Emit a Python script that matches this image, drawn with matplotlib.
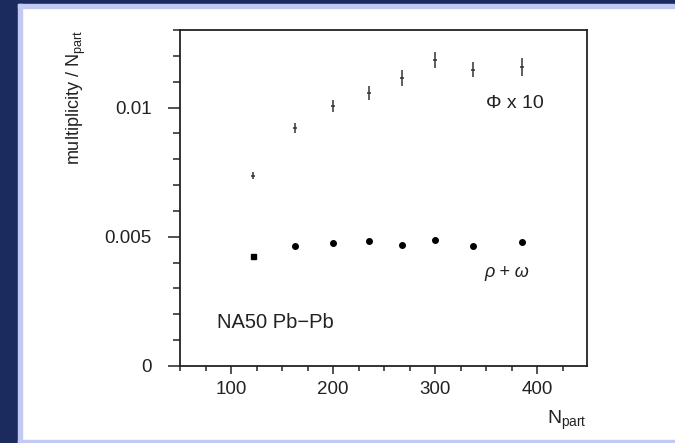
import matplotlib
matplotlib.use("Agg")
import matplotlib.pyplot as plt
from matplotlib.patches import Rectangle
from matplotlib.ticker import MultipleLocator, FixedLocator, FixedFormatter

# values
n_part = [122, 163, 200, 235, 268, 300, 337, 385]
phi_x10 = [0.00737, 0.0092, 0.01005, 0.01058, 0.01115, 0.01184, 0.01147, 0.01156]
phi_err = [0.00015, 0.0002, 0.00023, 0.00027, 0.0003, 0.0003, 0.00028, 0.00035]
rho_omega = [0.00425, 0.00465, 0.00475, 0.00484, 0.0047, 0.00489, 0.00466, 0.0048]
rho_err = [0.00003, 0.00003, 0.00004, 0.00005, 0.00006, 0.00006, 0.00006, 0.00007]
y_ticks = [0, 0.005, 0.01]
y_tick_labels = ["0", "0.005", "0.01"]
x_ticks = [100, 200, 300, 400]

plt.rcParams['font.family'] = ['Liberation Sans', 'DejaVu Sans']
plt.rcParams['mathtext.fontset'] = 'custom'
plt.rcParams['mathtext.rm'] = 'Liberation Sans'
plt.rcParams['mathtext.it'] = 'Liberation Sans:italic'

W, H = 675, 443
fig = plt.figure(figsize=(W / 100, H / 100), dpi=100)
fig.patch.set_facecolor('white')

# slide frame: navy border with a lavender edge
NAVY = '#1c2b5e'
LAV = '#c2caf4'
def px_rect(x0, y0, x1, y1, color):
    fig.patches.append(Rectangle((x0 / W, 1 - y1 / H), (x1 - x0) / W, (y1 - y0) / H,
                                 transform=fig.transFigure, color=color, zorder=0))
px_rect(0, 0, W, 4, NAVY)
px_rect(0, 0, 18, H, NAVY)
px_rect(18, 4, W, 8, LAV)
px_rect(18, 4, 22, H, LAV)
px_rect(18, 440, W, H, LAV)

ax = fig.add_axes([180 / W, 1 - 366 / H, (587 - 180) / W, (366 - 30) / H])
ax.set_facecolor('white')

# Phi x 10 with error bars
ax.errorbar(n_part, phi_x10, yerr=phi_err, fmt='_', ms=3, mew=1.1, color='#333333',
            ecolor='#333333', elinewidth=1.1, capsize=0)

# rho + omega
ax.errorbar(n_part[:1], rho_omega[:1], yerr=rho_err[:1], fmt='s', ms=3.6, color='black',
            elinewidth=1, capsize=0)
ax.errorbar(n_part[1:], rho_omega[1:], yerr=rho_err[1:], fmt='o', ms=4, color='black',
            elinewidth=1, capsize=0)

ax.set_xlim(50, 449)
ax.set_ylim(0, 0.013)

ax.xaxis.set_major_locator(FixedLocator(x_ticks))
ax.xaxis.set_minor_locator(MultipleLocator(25))
ax.yaxis.set_major_locator(FixedLocator(y_ticks))
ax.yaxis.set_major_formatter(FixedFormatter(y_tick_labels))
ax.yaxis.set_minor_locator(MultipleLocator(0.001))

ax.tick_params(axis='both', which='both', direction='out', top=False, right=False,
               width=1.1, colors='#222222', labelsize=13.5, labelcolor='#222222')
ax.tick_params(axis='x', which='major', length=6, pad=5)
ax.tick_params(axis='x', which='minor', length=3.5)
ax.tick_params(axis='y', which='major', length=8.5, pad=12)
ax.tick_params(axis='y', which='minor', length=5)

for s in ax.spines.values():
    s.set_linewidth(1.3)
    s.set_color('#222222')

ax.set_ylabel(r'multiplicity / N$_{\mathrm{part}}$', fontsize=13, loc='top', color='#222222')
ax.yaxis.set_label_coords(-0.226, 1.0)
ax.set_xlabel(r'N$_{\mathrm{part}}$', fontsize=14, loc='right', color='#222222')
ax.xaxis.set_label_coords(1.0, -0.128)

ax.text(350, 0.01017, 'Φ x 10', fontsize=14, ha='left', va='center', color='#222222')
ax.text(348, 0.0036, 'ρ + ω', fontsize=13, style='italic', ha='left', va='center', color='#222222')
ax.text(86, 0.00167, 'NA50 Pb−Pb', fontsize=14.5, ha='left', va='center', color='#222222')

fig.savefig('out.png', dpi=100)
